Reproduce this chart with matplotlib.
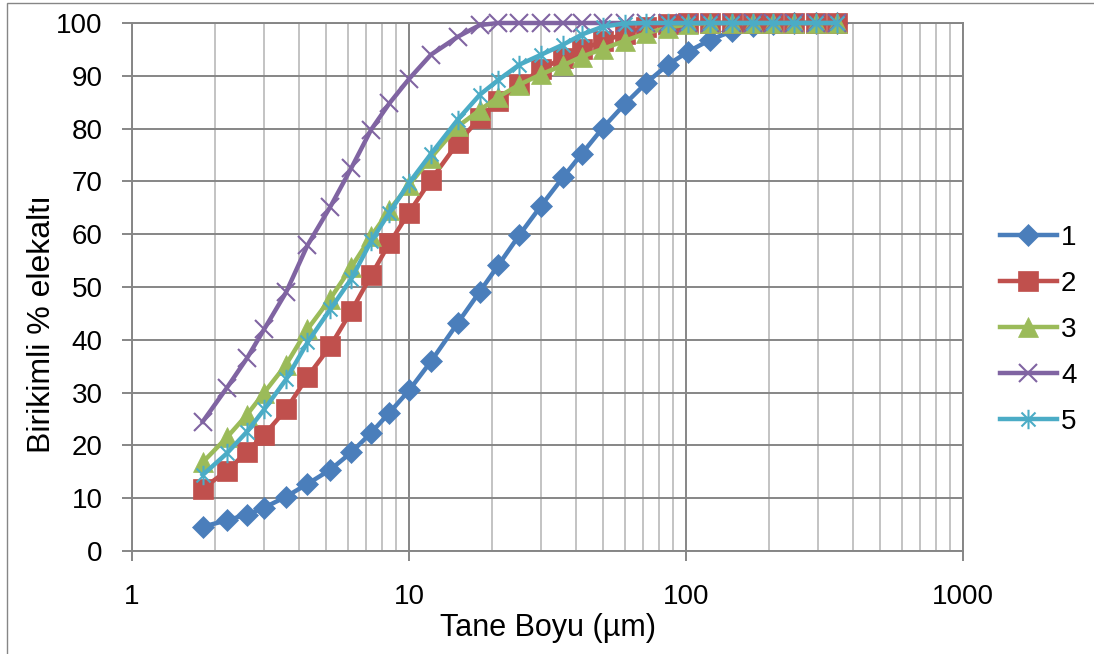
import matplotlib
matplotlib.use('Agg')
import matplotlib.pyplot as plt
from matplotlib.path import Path
from matplotlib.patches import Rectangle
from matplotlib.ticker import FixedLocator, FixedFormatter, LogLocator, NullFormatter

plt.rcParams['font.family'] = ['Liberation Sans', 'DejaVu Sans']

# grain size classes (um)
size_um = [1.8, 2.2, 2.6, 3.0, 3.6, 4.3, 5.2, 6.2, 7.3, 8.5, 10, 12, 15, 18, 21, 25,
           30, 36, 42, 50, 60, 72, 86, 102, 122, 146, 174, 206, 246, 294, 350]

# cumulative % passing for each sample
s1 = [4.6, 5.8, 6.9, 8.2, 10.3, 12.7, 15.4, 18.7, 22.4, 26.2, 30.4, 35.9, 43.2, 49.1,
      54.1, 59.8, 65.4, 70.8, 75.2, 80.1, 84.6, 88.7, 92.1, 94.6, 96.8, 98.4, 99.4,
      99.9, 100, 100, 100]
s2 = [11.8, 15.2, 18.8, 22.0, 26.8, 33.0, 38.8, 45.5, 52.2, 58.3, 64.1, 70.3, 77.3,
      82.0, 85.3, 88.4, 91.2, 93.4, 95.0, 96.5, 98.0, 99.2, 99.8, 100, 100, 100, 100,
      100, 100, 100, 100]
s3 = [16.8, 21.5, 25.8, 30.0, 35.3, 42.0, 47.8, 53.8, 59.6, 64.6, 69.3, 74.5, 80.4,
      83.5, 86.0, 88.3, 90.3, 92.0, 93.6, 95.1, 96.6, 98.1, 99.1, 99.8, 100, 100, 100,
      100, 100, 100, 100]
s4 = [24.5, 30.9, 36.5, 42.0, 49.0, 57.9, 65.2, 72.6, 79.8, 84.8, 89.4, 94.0, 97.4,
      99.6, 100, 100, 100, 100, 100, 100, 100, 100, 100, 100, 100, 100, 100, 100, 100,
      100, 100]
s5 = [14.4, 18.5, 22.6, 26.8, 32.5, 39.5, 45.8, 51.6, 58.7, 64.1, 69.7, 75.2, 81.7,
      86.4, 89.2, 92.1, 94.0, 95.9, 97.8, 99.3, 99.9, 100, 100, 100, 100, 100, 100,
      100, 100, 100, 100]

labels = ['1', '2', '3', '4', '5']
colors = ['#4a7ebb', '#c0504d', '#9bbb59', '#8064a2', '#4bacc6']

# excel style asterisk marker
star = Path([(0, -0.5), (0, 0.5), (-0.36, -0.36), (0.36, 0.36), (-0.36, 0.36), (0.36, -0.36)],
            [Path.MOVETO, Path.LINETO] * 3)

markers = ['D', 's', '^', 'x', star]
msizes = [11.5, 14, 15, 13, 14]

fig = plt.figure(figsize=(10.94, 6.54), dpi=100)
ax = fig.add_axes([132 / 1094, 1 - 551 / 654, 831 / 1094, 528 / 654])

series = [s1, s2, s3, s4, s5]
for i in range(5):
    filled = markers[i] in ('D', 's', '^')
    ax.plot(size_um, series[i], color=colors[i], lw=3.2, marker=markers[i],
            markersize=msizes[i], markerfacecolor=colors[i], markeredgecolor=colors[i],
            markeredgewidth=0.5 if filled else 1.5, label=labels[i], clip_on=False,
            zorder=3 + i)

ax.set_xscale('log')
ax.set_xlim(1, 1000)
ax.set_ylim(0, 100)
ax.xaxis.set_major_locator(FixedLocator([1, 10, 100, 1000]))
ax.xaxis.set_major_formatter(FixedFormatter(['1', '10', '100', '1000']))
ax.xaxis.set_minor_locator(LogLocator(base=10, subs=range(2, 10)))
ax.xaxis.set_minor_formatter(NullFormatter())
ax.set_yticks(range(0, 101, 10))

grid_col = '#868686'
ax.set_axisbelow(True)
ax.grid(which='major', color=grid_col, lw=1.4)
ax.grid(which='minor', axis='x', color='#c3c3c3', lw=1.4)
for sp in ax.spines.values():
    sp.set_color(grid_col)
    sp.set_linewidth(1.4)

ax.tick_params(which='major', length=7, width=1.4, color=grid_col, labelsize=20)
ax.tick_params(axis='x', which='major', pad=17)
ax.tick_params(axis='y', which='major', pad=14)
ax.tick_params(which='minor', length=0)

ax.set_xlabel('Tane Boyu (µm)', fontsize=22, va='center')
ax.xaxis.set_label_coords(0.5, (551 - 628) / 528)
ax.set_ylabel('Birikimli % elekaltı', fontsize=23, va='center')
ax.yaxis.set_label_coords((42 - 132) / 831, (551 - 324) / 528)

ax.legend(loc='center left', bbox_to_anchor=(1000 / 1094, 1 - 330 / 654),
          bbox_transform=fig.transFigure, frameon=False, fontsize=20, borderpad=0,
          borderaxespad=0, handlelength=2.05, handletextpad=0.15, labelspacing=0.72,
          numpoints=1)

# chart area border
fig.patches.append(Rectangle((7 / 1094, -0.1), 1.2, 1.1 - 3 / 654, transform=fig.transFigure,
                             fill=False, edgecolor=grid_col, lw=1, zorder=0))

fig.savefig('out.png', dpi=100)
